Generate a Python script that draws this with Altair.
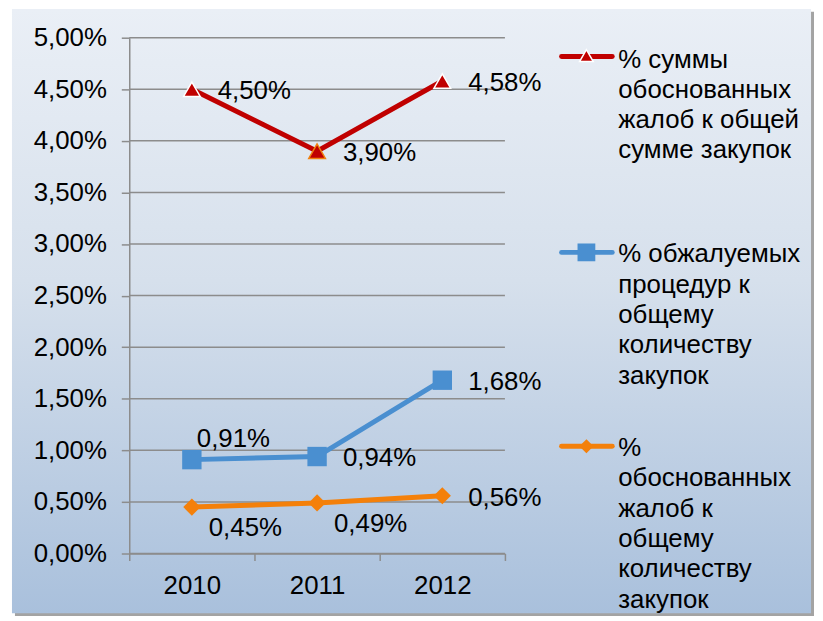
import altair as alt
import pandas as pd

# ---- data ----
years = ["2010", "2011", "2012"]
series = [
    "% суммы обоснованных жалоб к общей сумме закупок",
    "% обжалуемых процедур к общему количеству закупок",
    "% обоснованных жалоб к общему количеству закупок",
]
legend_labels = [
    "% суммы\nобоснованных\nжалоб к общей\nсумме закупок",
    "% обжалуемых\nпроцедур к\nобщему\nколичеству\nзакупок",
    "%\nобоснованных\nжалоб к\nобщему\nколичеству\nзакупок",
]
v_red = [4.50, 3.90, 4.58]
v_blue = [0.91, 0.94, 1.68]
v_orange = [0.45, 0.49, 0.56]
y_ticks = [0.0, 0.5, 1.0, 1.5, 2.0, 2.5, 3.0, 3.5, 4.0, 4.5, 5.0]

# ---- styles ----
colors = ["#c00000", "#4a8fd0", "#f4800a"]
shapes = ["triangle-up", "square", "diamond"]
sizes = [280, 380, 300]
label_place = [["right", "right", "right"],
               ["above", "right", "right"],
               ["below", "below", "right"]]
place_offsets = {"right": (26, 10), "above": (5, -13), "below": (17, 29)}
FONT = "Liberation Sans"
FS = 26
W, H = 378, 519

rows = []
for si, vals in enumerate([v_red, v_blue, v_orange]):
    for yi, y in enumerate(years):
        rows.append({"series": series[si], "year": y, "value": vals[yi],
                     "place": label_place[si][yi]})
df = pd.DataFrame(rows)

xenc = alt.X("year:N", sort=years,
             scale=alt.Scale(paddingInner=0, paddingOuter=0),
             axis=alt.Axis(title=None, tickBand="extent", labelAngle=0,
                           labelFontSize=FS, labelFont=FONT, labelColor="black",
                           labelPadding=12, tickSize=7, tickColor="#8c8c8c",
                           tickWidth=1.5, domainColor="#8c8c8c", domainWidth=1.5,
                           grid=False, zindex=1))
yscale = alt.Scale(domain=[0, 5], nice=False, zero=True)
yaxis = alt.Axis(title=None, values=y_ticks, grid=False,
                 labelExpr="replace(format(datum.value, '.2f'), '.', ',') + '%'",
                 labelFontSize=FS, labelFont=FONT, labelColor="black",
                 labelPadding=15, tickSize=8, tickColor="#8c8c8c",
                 tickWidth=1.5, domainColor="#8c8c8c", domainWidth=1.5,
                 zindex=1)
yenc = alt.Y("value:Q", scale=yscale, axis=yaxis)

base = alt.Chart(df)

# background
shadow = alt.Chart(pd.DataFrame({"a": [0]})).mark_rect(color="#a3a3a3").encode(
    x=alt.value(-115), x2=alt.value(689), y=alt.value(-26), y2=alt.value(582))
bg = alt.Chart(pd.DataFrame({"a": [0]})).mark_rect(
    color=alt.Gradient(gradient="linear", x1=0, x2=0, y1=0, y2=1,
                       stops=[alt.GradientStop(offset=0, color="#eaeff6"),
                              alt.GradientStop(offset=0.45, color="#d6e0ec"),
                              alt.GradientStop(offset=1, color="#a9c0dc")])
).encode(x=alt.value(-118), x2=alt.value(686), y=alt.value(-29), y2=alt.value(579))

grid = alt.Chart(pd.DataFrame({"value": y_ticks})).mark_rule(
    color="#8c8c8c", strokeWidth=1.5).encode(
    y=yenc, x=alt.value(0), x2=alt.value(W))

layers = [shadow, bg, grid]

for si in range(3):
    sub = base.transform_filter(alt.datum.series == series[si])
    line = sub.mark_line(color=colors[si], strokeWidth=5).encode(x=xenc, y=yenc)
    layers.append(line)
for si in range(3):
    sub = base.transform_filter(alt.datum.series == series[si])
    if si == 0:
        stroke = alt.condition("datum.year == '2011'", alt.value("#f08010"),
                               alt.value("white"))
        pts = sub.mark_point(shape=shapes[si], filled=True, size=sizes[si],
                             color=colors[si], strokeWidth=1.5, opacity=1).encode(
            x=xenc, y=yenc, stroke=stroke)
    else:
        pts = sub.mark_point(shape=shapes[si], filled=True, size=sizes[si],
                             color=colors[si], opacity=1).encode(x=xenc, y=yenc)
    layers.append(pts)

for pl, (dx, dy) in place_offsets.items():
    t = base.transform_filter(alt.datum.place == pl).transform_calculate(
        lbl="replace(format(datum.value, '.2f'), '.', ',') + '%'"
    ).mark_text(align="left", baseline="alphabetic", dx=dx, dy=dy,
                fontSize=FS, font=FONT, color="black").encode(
        x=xenc, y=yenc, text="lbl:N")
    layers.append(t)

# manual legend
leg_y = [19, 216, 411]
leg_text_y = [30, 226, 421]
for si in range(3):
    d = pd.DataFrame({"label": [legend_labels[si]]})
    lc = alt.Chart(d)
    layers.append(lc.mark_rule(color=colors[si], strokeWidth=5, strokeCap="round").encode(
        x=alt.value(435), x2=alt.value(486), y=alt.value(leg_y[si])))
    if si == 0:
        layers.append(lc.mark_point(shape=shapes[si], filled=True, size=190,
                                    color=colors[si], stroke="white", strokeWidth=1.5,
                                    opacity=1).encode(
            x=alt.value(460), y=alt.value(leg_y[si] - 1)))
    else:
        layers.append(lc.mark_point(shape=shapes[si], filled=True,
                                    size=320 if si == 1 else 200,
                                    color=colors[si], opacity=1).encode(
            x=alt.value(460), y=alt.value(leg_y[si])))
    layers.append(lc.mark_text(align="left", baseline="alphabetic", lineBreak="\n",
                               lineHeight=30.5, fontSize=FS, font=FONT,
                               color="black").encode(
        x=alt.value(492), y=alt.value(leg_text_y[si]), text="label:N"))

chart = alt.layer(*layers).properties(
    width=W, height=H, autosize="none",
    padding={"left": 122, "top": 28, "right": 312, "bottom": 63},
    background="white",
).configure_view(stroke=None)

chart.save("out.html", embed_options={"renderer": "svg", "actions": False})
